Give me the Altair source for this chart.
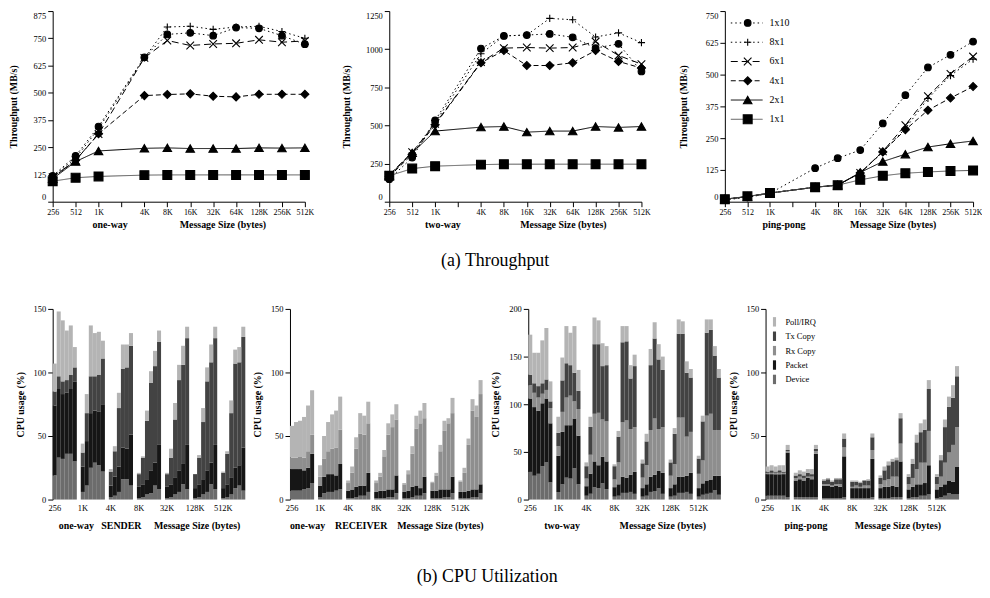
import altair as alt
import pandas as pd

FONT = "Liberation Serif"
NB = "\u00a0"

# ---------------- Throughput (line charts) ----------------
SIZES = ["256", "512", "1K", "2K", "4K", "8K", "16K", "32K", "64K", "128K", "256K", "512K"]
POINTS = ["256", "512", "1K", "4K", "8K", "16K", "32K", "64K", "128K", "256K", "512K"]
SERIES = ["1x10", "8x1", "6x1", "4x1", "2x1", "1x1"]

OW_1x10 = [118, 210, 345, 663, 768, 775, 762, 799, 796, 762, 723]
OW_8x1 = [115, 200, 335, 660, 802, 805, 791, 802, 805, 781, 750]
OW_6x1 = [112, 190, 310, 660, 740, 717, 724, 727, 743, 732, 738]
OW_4x1 = [110, 190, 312, 487, 492, 495, 484, 481, 493, 493, 493]
OW_2x1 = [105, 184, 233, 245, 247, 244, 244, 244, 247, 246, 247]
OW_1x1 = [94, 110, 116, 122, 123, 123, 123, 123, 123, 123, 123]

TW_1x10 = [148, 289, 533, 1004, 1087, 1093, 1100, 1078, 1007, 1035, 854]
TW_8x1 = [170, 320, 520, 970, 1087, 1093, 1202, 1193, 1080, 1107, 1043]
TW_6x1 = [175, 325, 510, 915, 1007, 1011, 1007, 1011, 1050, 959, 902]
TW_4x1 = [165, 310, 505, 911, 991, 893, 893, 911, 991, 920, 876]
TW_2x1 = [174, 320, 463, 489, 493, 456, 463, 463, 493, 487, 493]
TW_1x1 = [170, 217, 233, 243, 246, 246, 246, 246, 246, 246, 246]

PP_1x10 = [7, 17, 33, 132, 171, 203, 308, 419, 528, 578, 630]
PP_8x1 = [10, 20, 34, 57, 65, 113, 196, 288, 406, 496, 561]
PP_6x1 = [10, 20, 34, 57, 65, 113, 198, 301, 415, 503, 571]
PP_4x1 = [10, 20, 34, 57, 65, 113, 196, 283, 360, 408, 453]
PP_2x1 = [10, 20, 34, 57, 65, 115, 158, 187, 215, 228, 239]
PP_1x1 = [10, 21, 34, 57, 65, 86, 102, 112, 117, 121, 123]

LINE_COLORS = ["black", "black", "black", "black", "black", "#555555"]
LINE_WIDTHS = [1, 1, 1, 1, 1, 1.8]
DASHES = [[1.5, 3], [1.5, 3], [7, 4], [5, 3], [1, 0], [1, 0]]
SHAPES = ["circle", "M-1,0L1,0M0,-1L0,1", "M-1,-1L1,1M-1,1L1,-1", "diamond", "triangle-up", "square"]
FILLS = ["black", "transparent", "transparent", "black", "black", "black"]
MSIZES = [45, 80, 55, 35, 45, 45]

# ---------------- CPU utilization (stacked bars, cumulative tops) ----------------
GROUPS = ["256", "1K", "4K", "8K", "32K", "128K", "512K"]
STACK = ["Device", "Packet", "Rx Copy", "Tx Copy", "Poll/IRQ"]
LEG_ORDER = ["Poll/IRQ", "Tx Copy", "Rx Copy", "Packet", "Device"]
GREYS = ["#b4b4b4", "#434343", "#8e8e8e", "#161616", "#6c6c6c"]

SND_DEV = [19, 33, 32, 36, 36, 30, 6, 11, 25, 29, 27, 22, 2, 3, 6, 16, 16, 11,
           1, 2, 4, 5, 11, 8, 1, 2, 4, 6, 12, 8, 1, 2, 4, 6, 12, 8, 1, 2, 4, 9, 11, 7]
SND_PKT = [74, 87, 83, 84, 87, 93, 26, 46, 68, 70, 69, 75, 11, 18, 26, 41, 40, 51,
           10, 12, 16, 23, 29, 43, 10, 12, 17, 23, 28, 43, 9, 12, 16, 23, 29, 43, 9, 12, 17, 25, 27, 41]
SND_RX = [74, 87, 83, 84, 87, 93, 26, 46, 68, 70, 69, 75, 11, 18, 26, 41, 40, 51,
          10, 12, 16, 23, 29, 43, 10, 12, 17, 23, 28, 43, 9, 12, 16, 23, 29, 43, 9, 12, 17, 25, 27, 41]
SND_TX = [85, 97, 93, 94, 98, 104, 37, 68, 97, 97, 98, 111, 22, 38, 72, 103, 104, 121,
          20, 33, 62, 92, 105, 124, 20, 33, 63, 94, 106, 127, 20, 33, 61, 93, 108, 127, 21, 36, 68, 107, 108, 128]
SND_POLL = [107, 148, 141, 133, 137, 120, 44, 83, 137, 131, 132, 125, 24, 42, 84, 122, 122, 131,
            21, 34, 70, 101, 117, 133, 21, 40, 76, 106, 121, 136, 20, 35, 72, 104, 122, 136, 22, 38, 78, 118, 120, 136]

RCV_DEV = [7, 7, 7, 8, 9, 13, 2, 5, 6, 6, 7, 8, 1, 1, 2, 3, 3, 6,
           1, 1, 1, 2, 2, 5, 1, 1, 2, 3, 3, 5, 1, 1, 1, 2, 2, 5, 1, 1, 1, 2, 2, 5]
RCV_PKT = [24, 24, 24, 23, 25, 36, 11, 18, 20, 20, 19, 28, 7, 8, 10, 11, 11, 21,
           6, 7, 7, 8, 8, 19, 6, 7, 10, 11, 9, 18, 7, 7, 8, 8, 8, 18, 6, 6, 7, 8, 8, 12]
RCV_RX = [33, 33, 34, 33, 38, 51, 18, 32, 38, 40, 41, 55, 13, 21, 40, 52, 51, 60,
          13, 18, 34, 51, 57, 63, 12, 20, 36, 56, 60, 64, 13, 19, 38, 54, 60, 68, 14, 21, 43, 70, 65, 83]
RCV_TX = [33, 33, 34, 33, 38, 51, 18, 32, 38, 40, 41, 55, 13, 21, 40, 52, 51, 60,
          13, 18, 34, 51, 57, 63, 12, 20, 36, 56, 60, 64, 13, 19, 38, 54, 60, 68, 14, 21, 43, 70, 65, 83]
RCV_POLL = [58, 61, 62, 65, 74, 86, 27, 50, 61, 67, 70, 81, 15, 26, 49, 68, 66, 77,
            15, 21, 39, 60, 67, 75, 13, 23, 42, 66, 70, 76, 14, 21, 43, 62, 64, 80, 15, 25, 48, 79, 74, 94]

TWO_DEV = [29, 25, 27, 35, 39, 18, 8, 16, 23, 22, 33, 16, 4, 6, 13, 12, 17, 11,
           3, 4, 7, 7, 8, 6, 3, 4, 8, 9, 12, 6, 3, 4, 7, 7, 8, 6, 3, 5, 6, 7, 10, 5]
TWO_PKT = [106, 97, 93, 101, 106, 80, 46, 71, 78, 78, 85, 67, 14, 27, 40, 36, 45, 40,
           13, 16, 24, 23, 26, 29, 12, 16, 24, 26, 30, 28, 12, 16, 24, 24, 25, 28, 12, 17, 20, 21, 25, 25]
TWO_RX = [120, 112, 107, 111, 115, 96, 56, 92, 107, 109, 103, 95, 22, 47, 90, 91, 84, 82,
          21, 39, 81, 83, 74, 76, 23, 36, 73, 85, 74, 76, 25, 37, 86, 86, 66, 71, 27, 41, 88, 90, 73, 73]
TWO_TX = [131, 122, 119, 122, 126, 103, 70, 125, 143, 141, 133, 114, 35, 76, 163, 163, 140, 141,
          35, 66, 165, 166, 127, 140, 38, 61, 141, 169, 147, 136, 39, 69, 174, 174, 133, 128, 43, 82, 175, 178, 151, 128]
TWO_POLL = [173, 154, 154, 167, 180, 124, 87, 149, 182, 175, 182, 136, 39, 87, 191, 188, 164, 161,
            37, 72, 182, 182, 141, 152, 42, 69, 158, 186, 163, 150, 42, 75, 189, 187, 145, 137, 46, 88, 189, 189, 161, 137]

PP_DEV = [3, 3, 3, 3, 3, 2, 2, 2, 2, 2, 2, 2, 1, 1, 1, 1, 1, 2,
          1, 1, 1, 1, 1, 2, 1, 1, 1, 2, 2, 2, 1, 2, 2, 3, 3, 4, 1, 2, 3, 5, 4, 4]
PP_PKT = [20, 20, 20, 20, 20, 37, 15, 16, 15, 17, 16, 36, 11, 11, 10, 11, 10, 34,
          9, 9, 9, 9, 9, 32, 9, 10, 10, 11, 10, 30, 8, 10, 12, 12, 13, 27, 8, 10, 12, 15, 14, 26]
PP_RX = [21, 21, 21, 21, 21, 38, 17, 18, 17, 18, 18, 38, 12, 12, 11, 12, 12, 41,
         10, 11, 10, 11, 11, 39, 12, 15, 16, 18, 18, 44, 12, 17, 24, 29, 29, 54, 12, 18, 29, 37, 43, 57]
PP_TX = [22, 23, 22, 23, 22, 39, 19, 20, 19, 21, 20, 40, 15, 16, 14, 16, 16, 48,
         14, 14, 13, 15, 15, 49, 17, 23, 27, 30, 31, 64, 18, 28, 45, 53, 55, 87, 18, 31, 57, 73, 80, 97]
PP_POLL = [26, 27, 26, 27, 27, 43, 21, 23, 22, 24, 24, 43, 16, 17, 15, 17, 17, 52,
           15, 15, 14, 15, 16, 52, 19, 26, 30, 32, 33, 68, 20, 32, 51, 60, 63, 94, 20, 35, 63, 81, 90, 105]

H1 = 192
H2 = 192


def sc(rng):
    return alt.Scale(domain=SERIES, range=rng)


def line_panel(series_vals, ymax, step, title, width, title_pad, legend=False):
    rows = []
    for s, vals in zip(SERIES, series_vals):
        for i, (sz, v) in enumerate(zip(POINTS, vals)):
            rows.append({"series": s, "size": sz, "idx": i, "value": v})
    df = pd.DataFrame(rows)
    x = alt.X("size:O", scale=alt.Scale(domain=SIZES, type="point", padding=0),
              axis=alt.Axis(title=title, labelExpr="datum.value == '2K' ? '' : datum.value",
                            labelAngle=0, labelFontSize=8, titlePadding=3, tickSize=5, labelPadding=2))
    y = alt.Y("value:Q", scale=alt.Scale(domain=[0, ymax], nice=False),
              axis=alt.Axis(values=list(range(0, ymax + 1, step)), format="d", title="Throughput (MB/s)",
                            titlePadding=title_pad, tickSize=5, labelPadding=2, labelFlush=True))
    lines = alt.Chart(df).mark_line().encode(
        x=x, y=y,
        color=alt.Color("series:N", scale=sc(LINE_COLORS), legend=None),
        strokeDash=alt.StrokeDash("series:N", scale=sc(DASHES), legend=None),
        strokeWidth=alt.StrokeWidth("series:N", scale=sc(LINE_WIDTHS), legend=None),
        order="idx:Q",
    )
    pts = alt.Chart(df).mark_point(opacity=1, stroke="black", strokeWidth=1.1).encode(
        x=x, y=y,
        shape=alt.Shape("series:N", scale=sc(SHAPES), legend=None),
        fill=alt.Fill("series:N", scale=sc(FILLS), legend=None),
        size=alt.Size("series:N", scale=sc(MSIZES), legend=None),
    )
    chart = alt.layer(lines, pts)
    if legend:
        ldf = pd.DataFrame({"series": SERIES})
        ly = alt.Y("series:N", scale=alt.Scale(domain=SERIES, type="point", range=[12, 109], padding=0), axis=None)
        lrule = alt.Chart(ldf).mark_rule().encode(
            x=alt.value(6), x2=alt.value(38), y=ly,
            color=alt.Color("series:N", scale=sc(LINE_COLORS), legend=None),
            strokeDash=alt.StrokeDash("series:N", scale=sc(DASHES), legend=None),
            strokeWidth=alt.StrokeWidth("series:N", scale=sc(LINE_WIDTHS), legend=None),
        )
        lpt = alt.Chart(ldf).mark_point(opacity=1, stroke="black", strokeWidth=1.1).encode(
            x=alt.value(23), y=ly,
            shape=alt.Shape("series:N", scale=sc(SHAPES), legend=None),
            fill=alt.Fill("series:N", scale=sc(FILLS), legend=None),
            size=alt.Size("series:N", scale=sc(MSIZES), legend=None),
        )
        ltx = alt.Chart(ldf).mark_text(align="left", baseline="middle", font=FONT, fontSize=10).encode(
            x=alt.value(45), y=ly, text="series:N")
        chart = alt.layer(chart, alt.layer(lrule, lpt, ltx)).resolve_scale(y="independent")
    return chart.properties(width=width, height=H1)


def bar_panel(tops, ymax, title, width, legend=False):
    rows = []
    for ci, comp in enumerate(STACK):
        for i, top in enumerate(tops[ci]):
            base = tops[ci - 1][i] if ci else 0
            rows.append({"group": GROUPS[i // 6], "bar": i % 6, "comp": comp, "y0": base, "y1": top})
    df = pd.DataFrame(rows)
    if legend:
        leg = alt.Legend(title=None, orient="none", legendX=4, legendY=8,
                         symbolType="M-0.33,-1L0.33,-1L0.33,1L-0.33,1Z", symbolSize=90,
                         symbolStrokeWidth=0, labelFont=FONT, labelFontSize=8.5,
                         rowPadding=4.5, labelOffset=6, labelColor="black", symbolOpacity=1)
    else:
        leg = None
    return alt.Chart(df).mark_bar().encode(
        x=alt.X("group:N", sort=GROUPS,
                scale=alt.Scale(domain=GROUPS, paddingInner=0.14, paddingOuter=0),
                axis=alt.Axis(title=title, domain=False, ticks=False, labelAngle=0,
                              labelOffset=-10, labelPadding=4, titlePadding=9)),
        xOffset=alt.XOffset("bar:O", scale=alt.Scale(paddingInner=0, paddingOuter=0)),
        y=alt.Y("y1:Q", scale=alt.Scale(domain=[0, ymax], nice=False),
                axis=alt.Axis(values=list(range(0, ymax + 1, 50)), title="CPU usage (%)",
                              titlePadding=8, tickSize=5, labelPadding=2)),
        y2="y0:Q",
        color=alt.Color("comp:N", scale=alt.Scale(domain=LEG_ORDER, range=GREYS), legend=leg),
    ).properties(width=width, height=H2)


p1 = line_panel([OW_1x10, OW_8x1, OW_6x1, OW_4x1, OW_2x1, OW_1x1], 875, 125,
                "one-way" + NB * 21 + "Message Size (bytes)", 254, 15)
p2 = line_panel([TW_1x10, TW_8x1, TW_6x1, TW_4x1, TW_2x1, TW_1x1], 1250, 250,
                "two-way" + NB * 24 + "Message Size (bytes)", 254, 14)
p3 = line_panel([PP_1x10, PP_8x1, PP_6x1, PP_4x1, PP_2x1, PP_1x1], 750, 125,
                "ping-pong" + NB * 18 + "Message Size (bytes)", 250, 17, legend=True)

row1 = alt.hconcat(p1, p2, p3, spacing=28).properties(
    title=alt.TitleParams("(a) Throughput", orient="bottom", anchor="middle", font=FONT,
                          fontSize=18, fontWeight="normal", offset=23, color="black"))

b1 = bar_panel([SND_DEV, SND_PKT, SND_RX, SND_TX, SND_POLL], 150,
               "one-way" + NB * 3 + "SENDER" + NB * 5 + "Message Size (bytes)", 194)
b2 = bar_panel([RCV_DEV, RCV_PKT, RCV_RX, RCV_TX, RCV_POLL], 150,
               "one-way" + NB * 4 + "RECEIVER" + NB * 4 + "Message Size (bytes)", 194)
b3 = bar_panel([TWO_DEV, TWO_PKT, TWO_RX, TWO_TX, TWO_POLL], 200,
               "two-way" + NB * 16 + "Message Size (bytes)", 194)
b4 = bar_panel([PP_DEV, PP_PKT, PP_RX, PP_TX, PP_POLL], 150,
               "ping-pong" + NB * 11 + "Message Size (bytes)", 195, legend=True)

row2 = alt.hconcat(b1, b2, b3, b4, spacing=7).resolve_scale(color="independent").properties(
    title=alt.TitleParams("(b) CPU Utilization", orient="bottom", anchor="middle", font=FONT,
                          fontSize=18, fontWeight="normal", offset=38, color="black"))

chart = alt.vconcat(row1, row2, spacing=35).resolve_scale(
    color="independent"
).properties(
    padding={"left": 0, "top": 0, "right": 0, "bottom": 0}
).configure_axis(
    labelFont=FONT, titleFont=FONT, labelFontSize=8.5, titleFontSize=10, titleFontWeight="bold",
    labelColor="black", titleColor="black", domainColor="black", tickColor="black", grid=False,
).configure_view(stroke=None)

chart.save("out.html", embed_options={"renderer": "svg", "actions": False})
